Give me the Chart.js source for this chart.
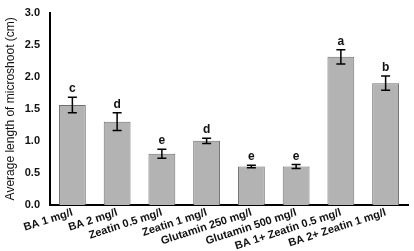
<!DOCTYPE html>
<html>
<head>
<meta charset="utf-8">
<script src="https://cdn.jsdelivr.net/npm/chart.js@4"></script>
<style>
  html, body { margin: 0; padding: 0; background: #fff; }
  #wrap { width: 414px; height: 251px; }
</style>
</head>
<body>
<div id="wrap"><canvas id="chart" width="414" height="251"></canvas></div>
<script>
const categories = ['BA 1 mg/l', 'BA 2 mg/l', 'Zeatin 0.5 mg/l', 'Zeatin 1 mg/l',
  'Glutamin 250 mg/l', 'Glutamin 500 mg/l', 'BA 1+ Zeatin 0.5 mg/l', 'BA 2+ Zeatin 1 mg/l'];
const lengths = [1.56, 1.30, 0.80, 1.00, 0.60, 0.60, 2.31, 1.90];
const errors = [0.12, 0.14, 0.07, 0.04, 0.02, 0.03, 0.11, 0.11];
const letters = ['c', 'd', 'e', 'd', 'e', 'e', 'a', 'b'];

const FONT = '"Liberation Sans", Arial, sans-serif';

// error bars + letters drawn on the bars
const errorBars = {
  id: 'errorBars',
  afterDatasetsDraw(chart) {
    const ctx = chart.ctx;
    const y = chart.scales.y;
    const meta = chart.getDatasetMeta(0);
    ctx.save();
    ctx.strokeStyle = '#000';
    ctx.lineWidth = 1.5;
    meta.data.forEach((bar, i) => {
      const top = y.getPixelForValue(lengths[i] + errors[i]);
      const bot = y.getPixelForValue(lengths[i] - errors[i]);
      const x = bar.x;
      ctx.beginPath();
      ctx.moveTo(x, top); ctx.lineTo(x, bot);
      ctx.moveTo(x - 4.5, top); ctx.lineTo(x + 4.5, top);
      ctx.moveTo(x - 4.5, bot); ctx.lineTo(x + 4.5, bot);
      ctx.stroke();
      ctx.fillStyle = '#111';
      ctx.font = 'bold 12px ' + FONT;
      ctx.textAlign = 'center';
      ctx.textBaseline = 'alphabetic';
      ctx.fillText(letters[i], x, top - 5);
    });
    ctx.restore();
  }
};

new Chart(document.getElementById('chart').getContext('2d'), {
  type: 'bar',
  data: {
    labels: categories,
    datasets: [{
      data: lengths,
      backgroundColor: '#b3b3b3',
      borderColor: '#6e6e6e',
      borderWidth: 1,
      categoryPercentage: 0.6,
      barPercentage: 1
    }]
  },
  options: {
    responsive: false,
    animation: false,
    layout: { padding: { top: 6, right: 6, left: 0, bottom: 0 } },
    plugins: { legend: { display: false }, tooltip: { enabled: false } },
    scales: {
      x: {
        afterFit: s => { s.height = 46; },
        grid: { display: false, drawTicks: true, tickLength: 5, tickColor: '#000' },
        border: { color: '#000', width: 2 },
        ticks: {
          color: '#111',
          minRotation: 18, maxRotation: 18,
          padding: -4,
          autoSkip: false,
          font: { family: FONT, size: 11, weight: 'bold' }
        }
      },
      y: {
        min: 0, max: 3,
        afterFit: s => { s.width = 50; },
        grid: { display: false, drawTicks: true, tickLength: 4, tickColor: '#000' },
        border: { color: '#000', width: 2 },
        ticks: {
          stepSize: 0.5,
          color: '#111',
          padding: 6,
          callback: v => v.toFixed(1),
          font: { family: FONT, size: 11, weight: 'bold' }
        },
        title: {
          display: true,
          text: 'Average length of microshoot (cm)',
          color: '#111',
          padding: { top: 3, bottom: 0 },
          font: { family: FONT, size: 12 }
        }
      }
    }
  },
  plugins: [errorBars]
});
</script>
</body>
</html>
